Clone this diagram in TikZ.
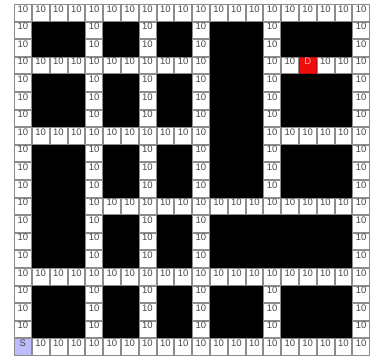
\documentclass[tikz,border=0pt]{standalone}
\usepackage{fontspec}
\setmainfont{Liberation Sans}
\usepackage{xcolor}
\definecolor{cellLine}{RGB}{140,140,140}
\definecolor{numGray}{RGB}{70,70,70}
\definecolor{startBlue}{RGB}{190,190,255}
\definecolor{goalRed}{RGB}{238,12,12}
\definecolor{goalText}{RGB}{255,175,175}

% row patterns: o = open, w = wall, s = start, d = goal
\def\patA{o,o,o,o,o,o,o,o,o,o,o,o,o,o,o,o,o,o,o,o}
\def\patB{o,w,w,w,o,w,w,o,w,w,o,w,w,w,o,w,w,w,w,o}
\def\patC{o,o,o,o,o,o,o,o,o,o,o,w,w,w,o,o,d,o,o,o}
\def\patD{o,o,o,o,o,o,o,o,o,o,o,w,w,w,o,o,o,o,o,o}
\def\patF{o,w,w,w,o,o,o,o,o,o,o,o,o,o,o,o,o,o,o,o}
\def\patG{o,w,w,w,o,w,w,o,w,w,o,w,w,w,w,w,w,w,w,o}
\def\patH{s,o,o,o,o,o,o,o,o,o,o,o,o,o,o,o,o,o,o,o}

\begin{document}
\begin{tikzpicture}[x=1pt, y=-1pt,
          cell/.style={draw=cellLine, line width=0.8pt, fill=white,
                       minimum width=16.8pt, minimum height=16.6pt, inner sep=0pt,
                       text=numGray, font=\fontsize{9.5}{10}\selectfont,
                       text height=6.8pt, text depth=8.3pt},
          wall/.style={fill=black}
        ]
        \useasboundingbox (0,0) rectangle (373,358);

        % walls first, then the open cells on top
        \foreach \p [count=\row from 0] in {A,B,B,C,B,B,B,D,B,B,B,F,G,G,G,A,B,B,B,H}{
          \edef\cur{\csname pat\p\endcsname}
          \foreach \k [count=\col from 0] in \cur{
            \if w\k
              \fill[wall] ({14+\col*17.8-0.2},{4+\row*17.6-0.2}) rectangle +(18.2,18.0);
            \fi
          }
        }
        \foreach \p [count=\row from 0] in {A,B,B,C,B,B,B,D,B,B,B,F,G,G,G,A,B,B,B,H}{
          \edef\cur{\csname pat\p\endcsname}
          \foreach \k [count=\col from 0] in \cur{
            \if w\k\else
              \if s\k
                \node[cell, fill=startBlue] (c-\row-\col)
                      at ({14+(\col+0.5)*17.8},{4+(\row+0.5)*17.6}) {S};
              \else\if d\k
                \node[cell, fill=goalRed, draw=goalRed!80!black, text=goalText] (c-\row-\col)
                      at ({14+(\col+0.5)*17.8},{4+(\row+0.5)*17.6}) {D};
              \else
                \node[cell] (c-\row-\col)
                      at ({14+(\col+0.5)*17.8},{4+(\row+0.5)*17.6}) {10};
              \fi\fi
            \fi
          }
        }
      \end{tikzpicture}
\end{document}
